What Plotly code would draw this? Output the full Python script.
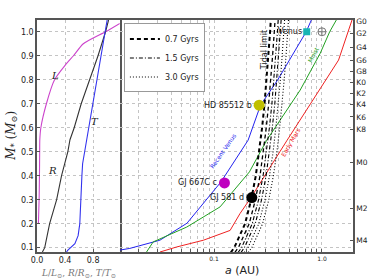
import plotly.graph_objects as go
import math

# ---------------- data ----------------
# left panel: stellar properties vs mass
mass_L = [0.2, 0.3, 0.4, 0.5, 0.55, 0.6, 0.7, 0.8, 0.86, 0.9, 0.95, 1.0, 1.035]
lum = [0.02, 0.03, 0.035, 0.038, 0.04, 0.055, 0.134, 0.25, 0.40, 0.52, 0.66, 0.977, 1.18]

mass_R = [0.082, 0.1, 0.15, 0.2, 0.3, 0.4, 0.5, 0.55, 0.6, 0.7, 0.8, 0.9, 1.0, 1.049]
rad = [0.077, 0.11, 0.145, 0.18, 0.28, 0.35, 0.44, 0.47, 0.53, 0.63, 0.75, 0.87, 0.977, 1.02]

mass_T = [0.082, 0.09, 0.117, 0.15, 0.2, 0.3, 0.4, 0.45, 0.5, 0.55, 0.6, 0.7, 0.8, 0.9, 1.0, 1.049]
temp = [0.42, 0.44, 0.54, 0.586, 0.61, 0.62, 0.64, 0.65, 0.68, 0.70, 0.73, 0.79, 0.85, 0.91, 0.977, 1.0]

# right panel: habitable-zone limits (a in AU vs stellar mass)
mass_venus = [0.09, 0.097, 0.131, 0.202, 0.374, 0.548, 0.694, 0.80, 1.0, 1.05]
a_venus = [0.0134, 0.0166, 0.0315, 0.0562, 0.116, 0.207, 0.27, 0.39, 0.715, 0.80]

mass_moist = [0.082, 0.124, 0.186, 0.27, 0.416, 0.548, 0.757, 0.91, 1.0, 1.049]
a_moist = [0.0237, 0.0273, 0.0559, 0.1138, 0.213, 0.308, 0.629, 0.964, 1.18, 1.36]

mass_mars = [0.082, 0.103, 0.131, 0.172, 0.242, 0.31, 0.548, 0.743, 0.882, 1.049]
a_mars = [0.0316, 0.0451, 0.0796, 0.141, 0.174, 0.221, 0.476, 0.899, 1.426, 1.90]

# tidal-lock limits
mass_tidal = [0.08, 0.1, 0.2, 0.3, 0.4, 0.5, 0.6, 0.7, 0.8, 0.9, 1.0, 1.05]
a_tid_07a = [0.143, 0.154, 0.194, 0.221, 0.244, 0.263, 0.279, 0.294, 0.307, 0.319, 0.331, 0.336]
a_tid_07b = [0.156, 0.168, 0.212, 0.242, 0.267, 0.287, 0.305, 0.321, 0.336, 0.349, 0.362, 0.368]
a_tid_15a = [0.167, 0.180, 0.226, 0.259, 0.285, 0.307, 0.326, 0.344, 0.359, 0.373, 0.387, 0.393]
a_tid_15b = [0.178, 0.191, 0.241, 0.276, 0.304, 0.327, 0.347, 0.366, 0.382, 0.398, 0.412, 0.419]
a_tid_30a = [0.191, 0.206, 0.260, 0.297, 0.327, 0.353, 0.374, 0.394, 0.412, 0.428, 0.444, 0.451]
a_tid_30b = [0.208, 0.224, 0.282, 0.322, 0.355, 0.383, 0.406, 0.428, 0.447, 0.465, 0.482, 0.490]

# planets
planet_names = ["HD 85512 b", "GJ 667C c", "GJ 581 d"]
planet_a = [0.262, 0.125, 0.224]
planet_mass = [0.694, 0.37, 0.309]
planet_colors = ["#bfbf00", "#bf00bf", "#000000"]

venus_a, venus_m = 0.723, 1.0
earth_a, earth_m = 1.0, 1.0

# spectral types on right axis
spec_labels = ["G0", "G2", "G4", "G6", "G8", "K0", "K2", "K4", "K6", "K8", "M0", "M2", "M4"]
spec_mass = [1.045, 0.993, 0.933, 0.882, 0.833, 0.787, 0.743, 0.697, 0.645, 0.593, 0.457, 0.263, 0.131]

mass_ticks = [0.1, 0.2, 0.3, 0.4, 0.5, 0.6, 0.7, 0.8, 0.9, 1.0]
left_x_ticks = [0.0, 0.4, 0.8]
a_ticks = [0.02, 0.03, 0.04, 0.05, 0.06, 0.07, 0.08, 0.09, 0.1, 0.2, 0.3, 0.4, 0.5,
           0.6, 0.7, 0.8, 0.9, 1.0]
a_tick_text = ["", "", "", "", "", "", "", "", "0.1", "", "", "", "", "", "", "", "", "1.0"]

# ---------------- figure ----------------
FONT = "DejaVu Sans"
SERIF = "DejaVu Serif"
GRID = "#c4c4c4"
SPINE = "#555555"

fig = go.Figure()

# left panel curves
fig.add_trace(go.Scatter(x=lum, y=mass_L, mode="lines",
                         line=dict(color="#cc44cc", width=1.1, shape="spline", smoothing=0.6),
                         showlegend=False, xaxis="x", yaxis="y"))
fig.add_trace(go.Scatter(x=rad, y=mass_R, mode="lines", line=dict(color="#333333", width=1.1),
                         showlegend=False, xaxis="x", yaxis="y"))
fig.add_trace(go.Scatter(x=temp, y=mass_T, mode="lines", line=dict(color="#3333ee", width=1.1),
                         showlegend=False, xaxis="x", yaxis="y"))

# right panel HZ curves
fig.add_trace(go.Scatter(x=a_venus, y=mass_venus, mode="lines", line=dict(color="#2222ee", width=1),
                         showlegend=False, xaxis="x2", yaxis="y"))
fig.add_trace(go.Scatter(x=a_moist, y=mass_moist, mode="lines", line=dict(color="#22a022", width=1),
                         showlegend=False, xaxis="x2", yaxis="y"))
fig.add_trace(go.Scatter(x=a_mars, y=mass_mars, mode="lines", line=dict(color="#ee2222", width=1),
                         showlegend=False, xaxis="x2", yaxis="y"))

# tidal limits
tidal = [
    (a_tid_07a, "0.7 Gyrs", "4px,3px", 2.0, True),
    (a_tid_07b, "0.7 Gyrs", "4px,3px", 1.3, False),
    (a_tid_15a, "1.5 Gyrs", "4px,2px,1px,2px", 1.1, True),
    (a_tid_15b, "1.5 Gyrs", "4px,2px,1px,2px", 1.1, False),
    (a_tid_30a, "3.0 Gyrs", "1px,2px", 1.1, True),
    (a_tid_30b, "3.0 Gyrs", "1px,2px", 1.1, False),
]
for arr, name, dash, w, show in tidal:
    fig.add_trace(go.Scatter(x=arr, y=mass_tidal, mode="lines", name=name, legendgroup=name,
                             showlegend=show, line=dict(color="black", dash=dash, width=w),
                             xaxis="x2", yaxis="y"))

# planets
fig.add_trace(go.Scatter(x=planet_a, y=planet_mass, mode="markers",
                         marker=dict(size=11, color=planet_colors, line=dict(width=0)),
                         showlegend=False, xaxis="x2", yaxis="y"))
fig.add_trace(go.Scatter(x=[venus_a], y=[venus_m], mode="markers",
                         marker=dict(size=7, color="#17b5b5", symbol="square"),
                         showlegend=False, xaxis="x2", yaxis="y"))
fig.add_trace(go.Scatter(x=[earth_a], y=[earth_m], mode="markers",
                         marker=dict(size=8, color="#777777", symbol="circle-cross-open", line=dict(width=1)),
                         showlegend=False, xaxis="x2", yaxis="y"))

# invisible trace to hold the spectral-type axis
fig.add_trace(go.Scatter(x=[0.5], y=[0.5], mode="markers", marker=dict(opacity=0),
                         showlegend=False, hoverinfo="skip", xaxis="x2", yaxis="y2"))

ann = []
def add_ann(text, x, y, xref, yref, size=8, color="#222222", angle=0, xanchor="center",
            yanchor="middle", family=FONT):
    ann.append(dict(text=text, x=x, y=y, xref=xref, yref=yref, showarrow=False,
                    font=dict(size=size, color=color, family=family), textangle=angle,
                    xanchor=xanchor, yanchor=yanchor))

# left panel curve labels
add_ann("<i>L</i>", 0.254, 0.819, "x", "y", size=10, family=SERIF)
add_ann("<i>R</i>", 0.224, 0.423, "x", "y", size=10, family=SERIF)
add_ann("<i>T</i>", 0.826, 0.624, "x", "y", size=10, family=SERIF)

# right panel labels (log axis -> x given as log10)
add_ann("Tidal limit", math.log10(0.298), 0.924, "x2", "y", size=8, angle=-90)
add_ann("Venus", math.log10(0.68), 1.0, "x2", "y", size=8, xanchor="right")
for n, a, m in zip(planet_names, planet_a, planet_mass):
    add_ann(n, math.log10(a) - 0.05, m, "x2", "y", size=8, xanchor="right")
add_ann("Recent Venus", math.log10(0.121), 0.506, "x2", "y", size=6, color="#2222ee", angle=-55)
add_ann("Moist", math.log10(0.83), 0.905, "x2", "y", size=6, color="#22a022", angle=-62)
add_ann("Early Mars", math.log10(0.52), 0.54, "x2", "y", size=6, color="#ee2222", angle=-60)

# axis titles
add_ann("<i>M</i><sub>*</sub> (<i>M</i><sub>⊙</sub>)", -0.08, 0.5, "paper", "paper", size=12,
        angle=-90, family=SERIF)
add_ann("<i>L</i>/<i>L</i><sub>⊙</sub>, <i>R</i>/<i>R</i><sub>⊙</sub>, <i>T</i>/<i>T</i><sub>⊙</sub>",
        0.13, -0.06, "paper", "paper", size=9, color="#777777", yanchor="top", family=SERIF)
add_ann("<i>a</i> (AU)", 0.65, -0.045, "paper", "paper", size=11, yanchor="top")

axis_common = dict(showline=True, linecolor=SPINE, linewidth=1.5, mirror=True,
                   ticks="inside", ticklen=3, tickcolor=SPINE, showgrid=True,
                   gridcolor=GRID, griddash="dot", gridwidth=1, zeroline=False,
                   automargin=False)

fig.update_layout(
    template="none",
    width=374, height=280,
    margin=dict(l=37, r=21, t=20, b=28),
    plot_bgcolor="white", paper_bgcolor="white",
    font=dict(family=FONT, size=8, color="#222222"),
    xaxis=dict(domain=[0, 0.262], range=[0, 1.18], tickvals=left_x_ticks,
               ticktext=["0.0", "0.4", "0.8"], tickfont=dict(size=8), anchor="y", **axis_common),
    xaxis2=dict(domain=[0.262, 1], type="log", range=[-1.873, 0.288], tickvals=a_ticks,
                ticktext=a_tick_text, tickfont=dict(size=6), anchor="y", **axis_common),
    yaxis=dict(range=[0.082, 1.049], tickvals=mass_ticks, ticktext=[f"{v:.1f}" for v in mass_ticks],
               tickfont=dict(size=8), anchor="x", **axis_common),
    yaxis2=dict(range=[0.082, 1.049], overlaying="y", side="right", anchor="x2",
                tickvals=spec_mass, ticktext=spec_labels, tickfont=dict(size=7.5),
                showgrid=False, showline=True, linecolor=SPINE, linewidth=1.5,
                ticks="inside", ticklen=3, tickcolor=SPINE, zeroline=False, automargin=False),
    legend=dict(x=0.275, y=0.985, xanchor="left", yanchor="top",
                bgcolor="white", bordercolor="#999999", borderwidth=1,
                font=dict(size=8), itemwidth=30, tracegroupgap=0),
    annotations=ann,
)

fig.write_html("out.html", config={"displayModeBar": False},
               post_script="document.body.style.margin='0px';")
